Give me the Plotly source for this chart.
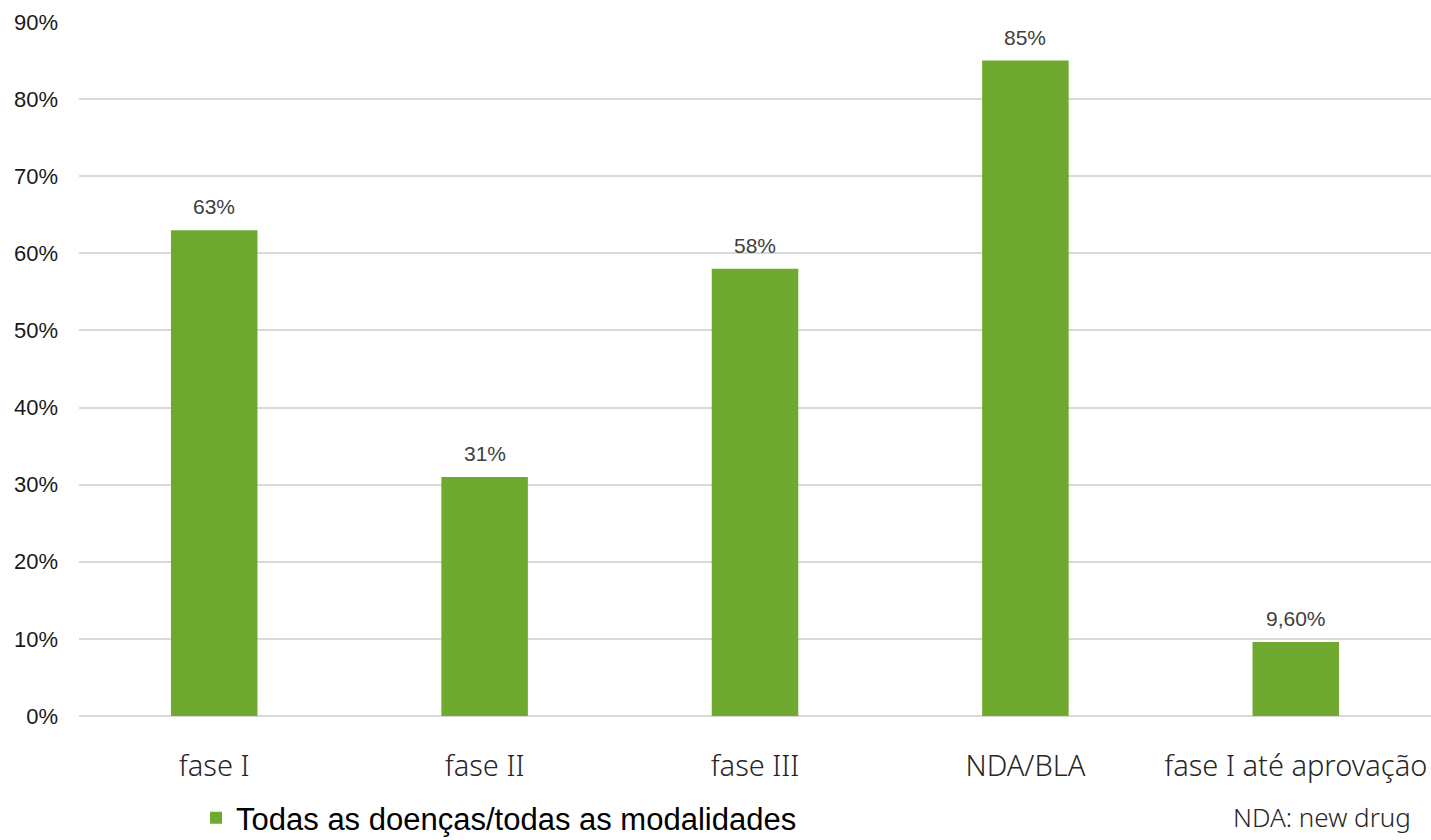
import plotly.graph_objects as go

categories = ["fase I", "fase II", "fase III", "NDA/BLA", "fase I até aprovação"]
success_rates = [0.63, 0.31, 0.58, 0.85, 0.096]
value_labels = ["63%", "31%", "58%", "85%", "9,60%"]
y_ticks = [0, 0.1, 0.2, 0.3, 0.4, 0.5, 0.6, 0.7, 0.8, 0.9]
y_tick_labels = ["0%", "10%", "20%", "30%", "40%", "50%", "60%", "70%", "80%", "90%"]
series_name = "Todas as doenças/todas as modalidades"

green = "#6FA92F"

fig = go.Figure()
fig.add_trace(go.Bar(
    x=categories,
    y=success_rates,
    name=series_name,
    marker=dict(color=green, line=dict(width=0)),
    showlegend=True,
))

# value labels sit a little above each bar top
value_annotations = [
    dict(
        x=cat, y=val, xref="x", yref="y",
        text=lab, showarrow=False,
        xanchor="center", yanchor="bottom", yshift=10,
        font=dict(family="Liberation Sans, Arial", size=21, color="#404040"),
    )
    for cat, val, lab in zip(categories, success_rates, value_labels)
]

footnote = dict(
    text="NDA: new drug",
    xref="paper", yref="paper",
    x=0.852, y=-0.174,
    xanchor="left", yanchor="bottom",
    showarrow=False,
    font=dict(family="Noto Sans", size=26, color="#262626", weight=300),
)

fig.update_layout(
    width=1431,
    height=840,
    margin=dict(l=79, r=0, t=22, b=124),
    paper_bgcolor="white",
    plot_bgcolor="white",
    bargap=0.68,
    xaxis=dict(
        showgrid=False,
        showline=False,
        ticks="",
        automargin=False,
        tickfont=dict(family="Noto Sans", size=29, color="#262626", weight=300),
        ticklabelstandoff=30,
    ),
    yaxis=dict(
        range=[0, 0.9],
        tickvals=y_ticks,
        ticktext=y_tick_labels,
        showgrid=True,
        gridcolor="#D9D9D9",
        gridwidth=1.5,
        zeroline=True,
        zerolinecolor="#D9D9D9",
        zerolinewidth=1.5,
        showline=False,
        ticks="",
        automargin=False,
        ticklabelstandoff=20,
        tickfont=dict(family="Liberation Sans, Arial", size=22, color="#1a1a1a"),
    ),
    legend=dict(
        orientation="h",
        xref="container", yref="container",
        x=0.137,
        y=0.026,
        xanchor="left",
        yanchor="middle",
        font=dict(family="Liberation Sans, Arial", size=31, color="#000000"),
        itemwidth=30,
    ),
    annotations=value_annotations + [footnote],
)

fig.write_html("out.html")
